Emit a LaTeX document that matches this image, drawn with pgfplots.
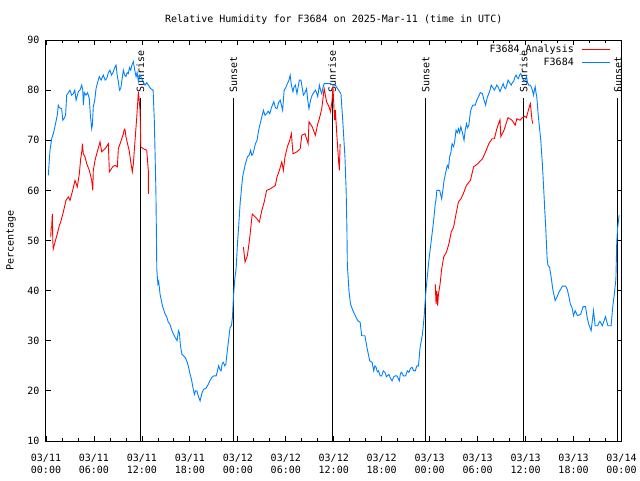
\documentclass[border=0pt]{standalone}
\usepackage{fontspec}
\setmainfont{DejaVu Sans Mono}
\usepackage{pgfplots}
\pgfplotsset{compat=1.18}
\definecolor{rhred}{RGB}{255,0,0}
\definecolor{rhblue}{RGB}{0,128,255}
\begin{document}
\fontsize{10}{12}\selectfont
\begin{tikzpicture}[font=\fontsize{10}{12}\selectfont]
\useasboundingbox (-46pt,-39pt) rectangle (594pt,441pt);
\begin{axis}[
  at={(0,0)}, anchor=south west,
  width=575.5pt, height=401pt, scale only axis,
  xmin=0, xmax=72, ymin=10, ymax=90,
  xtick={0,6,...,72},
  xticklabels={{03/11\\00:00},{03/11\\06:00},{03/11\\12:00},{03/11\\18:00},{03/12\\00:00},{03/12\\06:00},{03/12\\12:00},{03/12\\18:00},{03/13\\00:00},{03/13\\06:00},{03/13\\12:00},{03/13\\18:00},{03/14\\00:00}},
  minor x tick num=2,
  ytick={10,20,...,90},
  tick align=inside, xtick pos=both, ytick pos=both,
  major tick length=5pt, minor tick length=3pt,
  tick style={black, line width=0.8pt},
  axis line style={line width=1pt},
  xticklabel style={align=center, font=\fontsize{10}{12}\selectfont, yshift=-10pt},
  yticklabel style={font=\fontsize{10}{12}\selectfont, xshift=-3pt},
  /pgf/number format/assume math mode=true,
  title={Relative Humidity for F3684 on 2025-Mar-11 (time in UTC)},
  title style={at={(axis description cs:0.5,1.0399)}, anchor=base, inner sep=0pt, yshift=-4pt},
  ylabel={Percentage},
  ylabel style={at={(axis description cs:-0.0608,0.5)}, anchor=center, rotate=0},
  unbounded coords=jump,
]
% sunrise / sunset markers
\addplot[black, line width=1pt, forget plot] coordinates {(11.8,10) (11.8,78.5)};
\addplot[black, line width=1pt, forget plot] coordinates {(23.45,10) (23.45,78.5)};
\addplot[black, line width=1pt, forget plot] coordinates {(35.8,10) (35.8,78.5)};
\addplot[black, line width=1pt, forget plot] coordinates {(47.5,10) (47.5,78.5)};
\addplot[black, line width=1pt, forget plot] coordinates {(59.77,10) (59.77,78.5)};
\addplot[black, line width=1pt, forget plot] coordinates {(71.55,10) (71.55,78.5)};
\node[rotate=90, anchor=west, inner sep=0pt] at (axis cs:11.8,79.4) {Sunrise};
\node[rotate=90, anchor=west, inner sep=0pt] at (axis cs:23.45,79.4) {Sunset};
\node[rotate=90, anchor=west, inner sep=0pt] at (axis cs:35.8,79.4) {Sunrise};
\node[rotate=90, anchor=west, inner sep=0pt] at (axis cs:47.5,79.4) {Sunset};
\node[rotate=90, anchor=west, inner sep=0pt] at (axis cs:59.77,79.4) {Sunrise};
\node[rotate=90, anchor=west, inner sep=0pt] at (axis cs:71.55,79.4) {Sunset};

% F3684 Analysis
\addplot[rhred, line width=0.9pt] coordinates {
(0.59,50.7) (0.65,52.5) (0.71,52.7) (0.79,55.3) (0.85,50) (0.91,48.3) (1.13,49.7) (1.41,51.3) (1.67,53) (1.84,53.7) (2.17,55.7) (2.5,58) (2.8,58.7) (3.0,58) (3.34,60) (3.63,62) (3.92,60.7) (4.17,63.3) (4.34,66.3) (4.5,68) (4.55,69.3) (4.67,67.3) (4.88,66.7) (5.1,65.3) (5.42,64) (5.72,62) (5.85,60) (5.92,64) (6.13,66) (6.42,67.7) (6.76,69.7) (6.97,67.7) (7.39,68.3) (7.8,69.3) (7.93,63.7) (8.35,64.7) (8.64,65) (8.93,64.7) (9.05,68.3) (9.35,69.7) (9.68,71.3) (9.8,72.2) (9.9,72) (10.0,70.7) (10.2,69.3) (10.4,68) (10.6,65.7) (10.8,63.7) (10.93,65.3) (11.14,70) (11.36,74.7) (11.56,79.7) (11.77,76) (11.86,68.7) (12.18,68.3) (12.6,68) (12.8,64) (12.82,59.3)
(18,nan)
(24.7,48.7) (24.9,45.7) (25.2,47) (25.5,50.7) (25.8,55.3) (26.3,54.5) (26.7,53.7) (27.0,56) (27.3,57.7) (27.6,60) (28.05,60.3) (28.7,61) (28.9,62.7) (29.2,64) (29.5,65.7) (29.7,64) (29.9,66.7) (30.2,68.7) (30.5,70) (30.7,71.3) (30.9,67.3) (31.4,67.7) (31.8,68.3) (32.0,71) (32.4,71.3) (32.8,69.3) (32.9,73.7) (33.3,72.7) (33.7,71) (34.0,73.3) (34.2,74.3) (34.5,76.3) (34.8,80.3) (35.1,77.7) (35.4,76.7) (35.6,75.7) (35.8,78) (35.9,80.7) (36.1,74) (36.2,76) (36.4,70.7) (36.6,66) (36.7,64) (36.8,69.3)
(42,nan)
(48.7,41.3) (48.8,37.3) (48.9,40) (49.0,37) (49.1,39.3) (49.3,41.3) (49.5,44.3) (49.75,46.7) (50.1,47.7) (50.4,49.3) (50.7,51.7) (51.0,52.7) (51.3,55.3) (51.6,57.7) (51.9,58.3) (52.2,59.3) (52.6,61) (53.1,62) (53.5,64.7) (54.0,65.3) (54.6,66.3) (55.0,67.7) (55.4,69.3) (55.8,70.3) (56.1,70.3) (56.4,72.3) (56.8,74.1) (56.9,70.7) (57.3,72) (57.8,74.5) (58.3,74) (58.7,73) (58.9,74.3) (59.3,74) (59.6,74.5) (59.9,74.8) (60.1,74.5) (60.4,76.3) (60.6,77.3) (60.7,75.7) (60.8,74.1) (60.9,73.3)
};

% F3684
\addplot[rhblue, line width=0.9pt] coordinates {
(0.29,63) (0.5,68) (0.71,70.3) (0.91,71.3) (1.13,72.8) (1.41,75) (1.54,77) (1.67,76.5) (1.96,76.3) (2.1,74) (2.25,74.3) (2.45,75) (2.59,79) (2.8,79.5) (3.0,80) (3.2,79) (3.42,79.3) (3.6,80) (3.76,78) (4.05,79.7) (4.25,80) (4.47,81) (4.6,80) (4.67,77) (4.8,79.5) (5.0,79) (5.2,79.5) (5.42,78.3) (5.55,75) (5.72,72.3) (5.8,73) (5.92,76.7) (6.1,78) (6.26,80.3) (6.45,81.5) (6.67,82.7) (6.9,82) (7.17,83) (7.4,82) (7.6,82.3) (7.8,83.5) (8.0,84) (8.2,83) (8.43,83.7) (8.6,84.5) (8.77,85) (8.9,83) (9.05,81.7) (9.2,80) (9.35,80.3) (9.5,82) (9.68,84) (9.85,83) (10.0,82.7) (10.15,83.5) (10.3,83.3) (10.45,84.5) (10.6,84) (10.75,85) (10.93,85.7) (11.1,84) (11.27,82.7) (11.4,83.5) (11.56,81.7) (11.75,83) (11.98,82.3) (12.2,81.5) (12.4,81) (12.6,81.5) (12.8,81) (13.1,80.3) (13.4,80) (13.55,74) (13.65,67) (13.75,60) (13.8,53.3) (13.86,44.3) (14.0,41.3) (14.1,41.8) (14.27,39.3) (14.56,37) (14.9,35.3) (15.1,34.8) (15.3,33.7) (15.5,33.3) (15.7,32.3) (15.9,31.5) (16.15,30.7) (16.4,30) (16.57,32) (16.7,31.5) (16.8,29.3) (17.0,27.3) (17.2,27) (17.4,26.7) (17.6,26) (17.8,25) (18.0,23.5) (18.2,22.3) (18.4,20.5) (18.57,19.3) (18.7,20) (18.87,20) (19.05,19) (19.28,18) (19.5,19.5) (19.7,20.3) (20.0,20.5) (20.3,21.3) (20.5,22) (20.75,22.7) (21.0,23) (21.3,23) (21.6,25) (21.75,24.3) (21.9,24) (22.05,25.5) (22.2,25.7) (22.35,25) (22.5,25.3) (22.65,27.5) (22.83,30) (23.04,32.7) (23.2,33) (23.33,34.7) (23.45,38.7) (23.6,42) (23.8,44.7) (23.95,49.3) (24.1,52.7) (24.3,57.7) (24.6,62.7) (24.9,65) (25.2,66.7) (25.4,67) (25.6,68) (25.75,67) (25.9,67.3) (26.2,69.3) (26.4,70) (26.6,72) (26.9,74) (27.2,76) (27.4,75) (27.6,75.3) (27.8,75.8) (28.0,75.3) (28.2,76.5) (28.5,77.7) (28.7,76.5) (28.9,76.3) (29.1,77.5) (29.3,78) (29.6,76) (29.8,80) (30.0,80.5) (30.2,81.3) (30.4,82) (30.55,83) (30.7,81) (30.9,79.7) (31.0,80.5) (31.2,81) (31.4,79.3) (31.7,82) (31.9,82) (32.05,80.5) (32.2,79) (32.4,79.5) (32.6,80.3) (32.75,78) (32.9,76.3) (33.1,78) (33.3,79) (33.5,79.5) (33.7,80) (33.85,79.5) (34.0,78.7) (34.2,81) (34.35,80) (34.5,79.3) (34.65,80.5) (34.8,81.3) (35.2,81.3) (35.6,81.3) (35.9,81) (36.2,81) (36.4,80.5) (36.6,80) (36.9,79.3) (37.15,73.3) (37.4,66.7) (37.55,60) (37.65,52) (37.7,45) (37.8,42.7) (37.9,40) (38.1,37.3) (38.4,36) (38.7,35) (39.0,34) (39.3,33.7) (39.5,31) (39.9,31) (40.15,28.7) (40.5,26) (40.8,25.7) (41.0,24) (41.15,25) (41.3,24.7) (41.45,23.8) (41.6,24) (41.8,23) (42.0,23) (42.2,24) (42.4,23.7) (42.6,22.8) (42.9,23.3) (43.1,22.5) (43.3,22) (43.5,22.8) (43.7,23) (43.9,23) (44.05,22.5) (44.2,22) (44.35,23.5) (44.5,23.7) (44.7,23) (44.85,23) (45.0,23) (45.2,24) (45.4,23.7) (45.6,24.5) (45.8,24.7) (46.0,24) (46.2,24) (46.4,25) (46.6,25) (46.8,28.7) (47.1,31.3) (47.3,34.7) (47.5,39.3) (47.7,42.7) (47.9,46) (48.1,48.7) (48.3,51.3) (48.5,54) (48.7,57.3) (48.8,58.3) (48.9,60) (49.1,60) (49.25,60) (49.5,58.3) (49.65,60) (49.8,62) (50.0,63.5) (50.2,65) (50.35,64.5) (50.5,66.7) (50.65,67.5) (50.8,69.3) (51.0,68.7) (51.15,70) (51.3,72) (51.45,71.5) (51.6,72.3) (51.75,71.5) (51.9,72.7) (52.1,71.5) (52.3,70) (52.45,72) (52.6,73.3) (52.75,72.5) (52.9,73) (53.1,75.7) (53.25,76.5) (53.4,77) (53.7,77) (53.9,78) (54.1,78.7) (54.35,79.5) (54.6,79.3) (54.8,78) (55.0,77) (55.2,78.5) (55.4,79.3) (55.55,80) (55.7,81) (55.9,80.5) (56.1,80) (56.25,80.5) (56.4,81) (56.6,80.5) (56.8,79.7) (57.0,80.5) (57.2,81.3) (57.35,80.5) (57.5,80.3) (57.65,81) (57.8,82) (58.0,81.5) (58.2,81) (58.35,81.5) (58.5,81.7) (58.65,82.5) (58.8,83) (58.95,82.5) (59.1,82.3) (59.25,83) (59.4,83.3) (59.6,82.5) (59.8,81.7) (59.95,82) (60.1,82.7) (60.25,81.5) (60.4,81) (60.55,81) (60.7,80.7) (60.85,80) (61.0,79) (61.1,80) (61.2,80.7) (61.3,79.5) (61.4,78.7) (61.6,74.7) (61.9,70) (62.1,65.3) (62.3,59.3) (62.4,56) (62.5,53.3) (62.6,49.7) (62.7,46.3) (62.8,45) (63.0,44.7) (63.2,42.7) (63.4,40.3) (63.7,38) (64.0,39) (64.2,39.8) (64.4,40.3) (64.6,40.9) (65.0,40.9) (65.2,40.3) (65.4,39) (65.6,37.3) (65.8,36.7) (66.0,35) (66.2,36) (66.5,35) (66.9,35.3) (67.2,36.8) (67.5,36.8) (67.7,34.7) (67.9,33.3) (68.2,32) (68.35,34) (68.5,36) (68.7,33) (69.0,33) (69.3,33.9) (69.6,33) (70.0,34.8) (70.3,33) (70.7,33) (70.9,36.7) (71.1,39.3) (71.3,42.3) (71.4,49.3) (71.5,52.3) (71.7,55)
};
\end{axis}
% legend (key) in the top right corner of the plot area
\node[anchor=base east, inner sep=0pt] at (528pt,388.2pt) {F3684\_Analysis};
\draw[rhred, line width=0.9pt] (536pt,391.5pt) -- (564pt,391.5pt);
\node[anchor=base east, inner sep=0pt] at (528pt,375pt) {F3684};
\draw[rhblue, line width=0.9pt] (536pt,378.3pt) -- (564pt,378.3pt);
\end{tikzpicture}
\end{document}
